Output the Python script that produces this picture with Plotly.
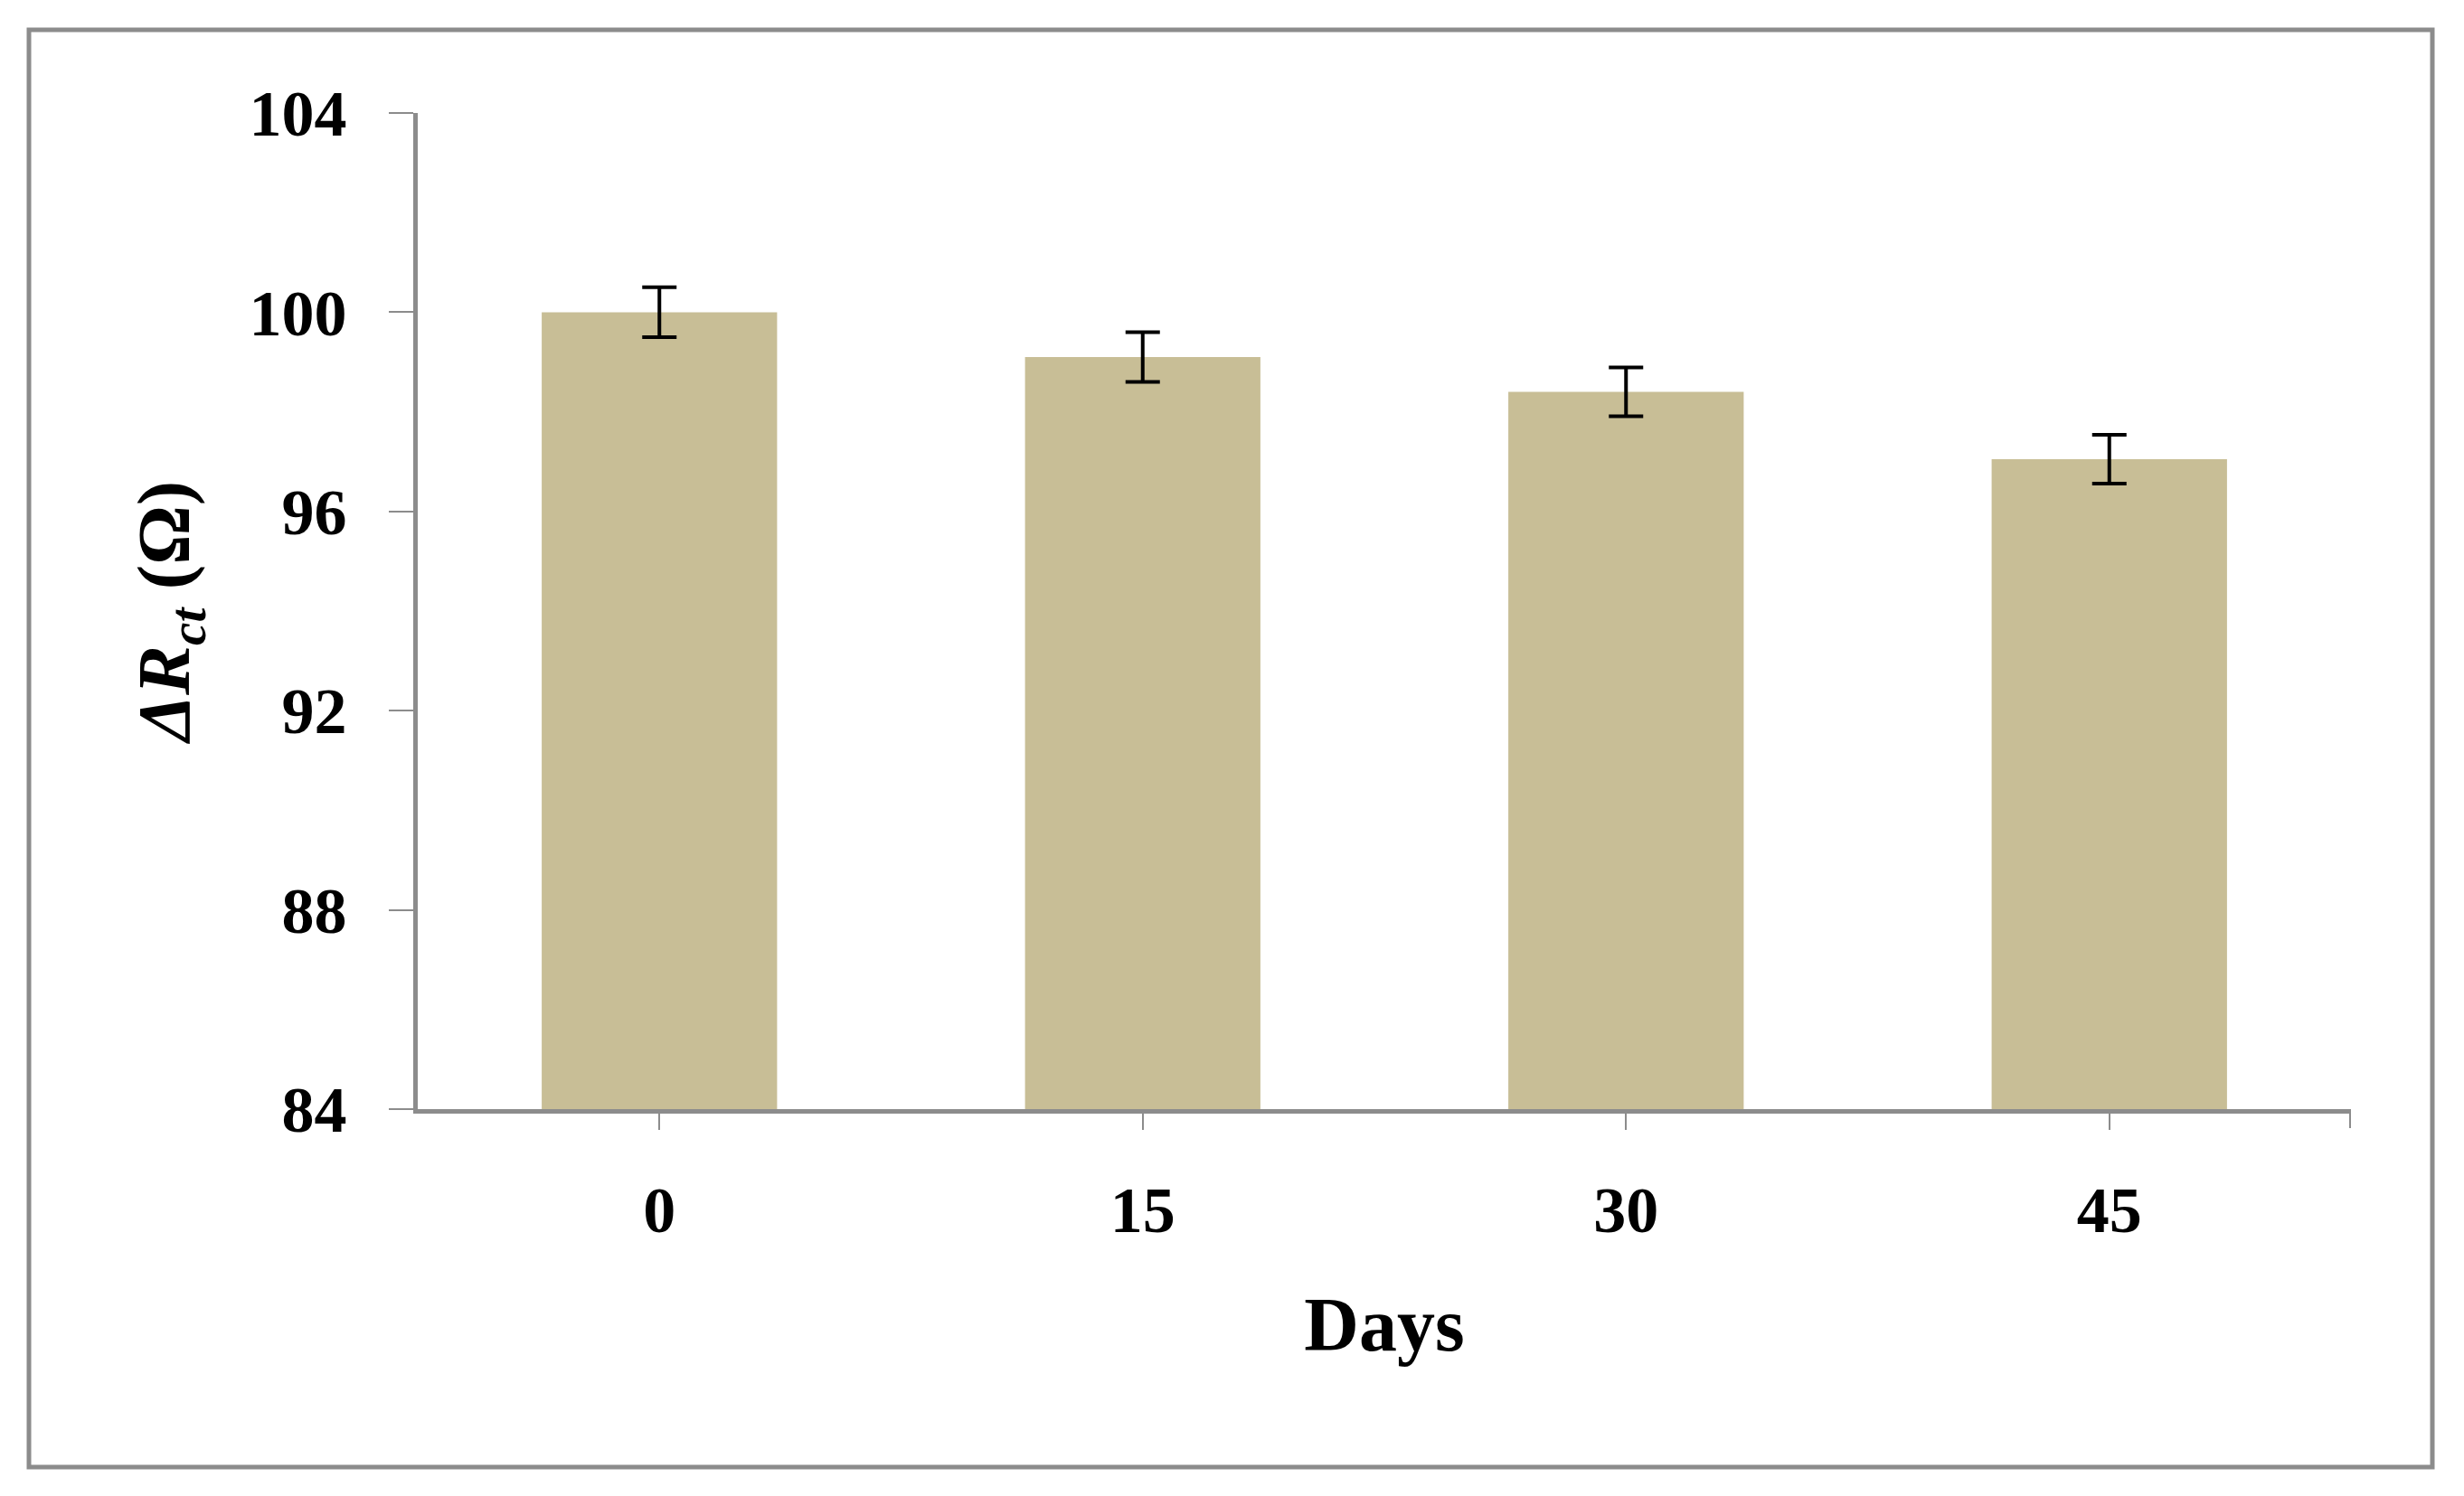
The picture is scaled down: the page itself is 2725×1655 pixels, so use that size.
import plotly.graph_objects as go

days = ["0", "15", "30", "45"]
delta_rct = [100.0, 99.1, 98.4, 97.05]
errors = [0.5, 0.5, 0.49, 0.49]
y_ticks = [84, 88, 92, 96, 100, 104]

FONT = "Liberation Serif"
GRAY = "#8c8c8c"
BAR = "#C8BE96"

x_pos = list(range(len(days)))

fig = go.Figure()
fig.add_trace(go.Bar(
    x=x_pos, y=delta_rct, width=0.487,
    marker=dict(color=BAR, line=dict(width=0)),
    error_y=dict(type="data", array=errors, visible=True,
                 color="black", thickness=4, width=19),
))

OFF = 8  # page body margin
L, R, T, B = 462 - OFF, 125 + OFF, 125 - OFF, 428 + OFF
W, H = 2725, 1655
pw = W - L - R
ph = H - T - B

fig.update_layout(
    width=W, height=H,
    margin=dict(l=L, r=R, t=T, b=B, autoexpand=False),
    plot_bgcolor="white", paper_bgcolor="white",
    showlegend=False,
    font=dict(family=FONT, color="black"),
    xaxis=dict(
        range=[-0.5, len(days) - 0.5],
        tickvals=x_pos,
        ticktext=days,
        ticks="outside", ticklen=18, tickwidth=2, tickcolor=GRAY,
        showline=True, linewidth=5, linecolor=GRAY,
        showgrid=False, zeroline=False,
        tickfont=dict(family=FONT, size=72, weight="bold"),
        ticklabelstandoff=27,
        title=dict(text="<b>Days</b>", font=dict(family=FONT, size=84),
                   standoff=58),
        automargin=False,
    ),
    yaxis=dict(
        range=[84, 104],
        tickvals=y_ticks,
        ticks="outside", ticklen=27, tickwidth=2, tickcolor=GRAY,
        showline=True, linewidth=5, linecolor=GRAY,
        showgrid=False, zeroline=False,
        tickfont=dict(family=FONT, size=72, weight="bold"),
        ticklabelstandoff=32,
        title=dict(text="<b><i>ΔR</i><sub><i>ct</i></sub> (Ω)</b>",
                   font=dict(family=FONT, size=82), standoff=40),
        automargin=False,
    ),
)

# end tick at the right edge of the category axis
fig.add_shape(type="line", xref="x", yref="paper",
              x0=len(days) - 0.5, x1=len(days) - 0.5,
              y0=0, y1=-21 / ph, line=dict(color=GRAY, width=4))

# outer frame
fig.add_shape(type="rect", xref="paper", yref="paper",
              x0=(32 - OFF - L) / pw, x1=(2690 - OFF - L) / pw,
              y0=(H - B - (1623 - OFF)) / ph, y1=(H - B - (33 - OFF)) / ph,
              line=dict(color=GRAY, width=5), layer="below")

fig.write_html("out.html")
